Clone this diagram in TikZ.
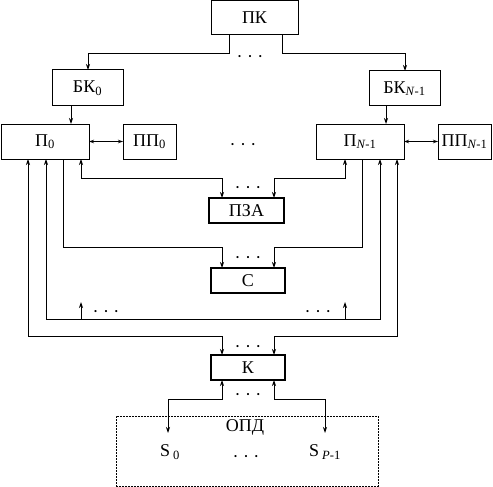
\documentclass[tikz,border=0pt]{standalone}
\usepackage{fontspec}
\setmainfont{Liberation Serif}
\usetikzlibrary{arrows.meta}
\begin{document}
\begin{tikzpicture}[x=1pt,y=-1pt,
  every node/.style={font=\fontsize{18}{21}\selectfont},
  blk/.style={draw,line width=1pt,inner sep=0pt,outer sep=0pt},
  blkb/.style={draw,line width=1.5pt,inner sep=0pt,outer sep=0pt},
  con/.style={line width=0.8pt,-{Stealth[length=6pt,width=4pt]}},
  bcon/.style={line width=0.8pt,{Stealth[length=6pt,width=4pt]}-{Stealth[length=6pt,width=4pt]}},
  scon/.style={line width=0.8pt,{Stealth[length=5pt,width=3.5pt,open]}-{Stealth[length=5pt,width=3.5pt,open]}},
  dots/.style={inner sep=0pt,font=\fontsize{18}{21}\selectfont}]
\useasboundingbox (0,0) rectangle (493,487);
% blocks
\node[blk,minimum width=87pt,minimum height=34pt] (PK) at (254.5,18) {ПК};
\node[blk,minimum width=71pt,minimum height=36pt] (BK0) at (87.5,88) {БК\textsubscript{0}};
\node[blk,minimum width=71pt,minimum height=35pt] (BKN) at (404.5,88.5) {БК\textsubscript{\textit{N}-1}};
\node[blk,minimum width=88pt,minimum height=35pt] (P0) at (45,141.5) {П\textsubscript{0}};
\node[blk,minimum width=53pt,minimum height=35pt] (PP0) at (149.5,141.5) {ПП\textsubscript{0}};
\node[blk,minimum width=88pt,minimum height=35pt] (PN) at (360,141.5) {П\textsubscript{\textit{N}-1}};
\node[blk,minimum width=53pt,minimum height=35pt] (PPN) at (464.5,141.5) {ПП\textsubscript{\textit{N}-1}};
\node[blkb,minimum width=75pt,minimum height=25pt] (PZA) at (246.5,210.5) {ПЗА};
\node[blkb,minimum width=74pt,minimum height=25pt] (C) at (248,280.5) {С};
\node[blkb,minimum width=74pt,minimum height=25pt] (K) at (248,367.5) {К};
\node[draw,line width=0.8pt,dash pattern=on 2pt off 1pt,inner sep=0pt,minimum width=262pt,minimum height=70pt] (OPD) at (247,451) {};
\node (OPDl) at (245,427) {ОПД};
\node (S0) at (170,452) {S\,\textsubscript{0}};
\node (SP) at (325,452) {S\,\textsubscript{\textit{P}-1}};
% dots
\node[dots] (d1) at (250,59) {· · ·};
\node[dots] (d2) at (243,147) {· · ·};
\node[dots] (d3) at (248,190) {· · ·};
\node[dots] (d4) at (248,260) {· · ·};
\node[dots] (d5) at (106,314) {· · ·};
\node[dots] (d6) at (318,314) {· · ·};
\node[dots] (d7) at (248,349) {· · ·};
\node[dots] (d8) at (248,397) {· · ·};
\node[dots] (d9) at (246,459) {· · ·};
% coordinates
\coordinate (s0in) at (168,433);
\coordinate (spin) at (325,433);
\coordinate (tap0) at (81,302);
\coordinate (tapN) at (345,302);
% connectors
\draw[con] (PK.south -| 229,0) -- (229,53) -- (88,53) -- (BK0.north -| 88,0);
\draw[con] (PK.south -| 282,0) -- (282,53) -- (405,53) -- (BKN.north -| 405,0);
\draw[con] (BK0.south -| 71,0) -- (P0.north -| 71,0);
\draw[con] (BKN.south -| 386,0) -- (PN.north -| 386,0);
\draw[scon] (P0.east) -- (PP0.west);
\draw[scon] (PN.east) -- (PPN.west);
\draw[bcon] (P0.south -| 81,0) -- (81,178) -- (222,178) -- (PZA.north -| 222,0);
\draw[bcon] (PN.south -| 345,0) -- (345,178) -- (274,178) -- (PZA.north -| 274,0);
\draw[con] (P0.south -| 63,0) -- (63,247) -- (222,247) -- (C.north -| 222,0);
\draw[con] (PN.south -| 362,0) -- (362,247) -- (274,247) -- (C.north -| 274,0);
\draw[bcon] (P0.south -| 46,0) -- (46,319) -- (380,319) -- (PN.south -| 380,0);
\draw[con] (81,319) -- (tap0);
\draw[con] (345,319) -- (tapN);
\draw[bcon] (P0.south -| 28,0) -- (28,336) -- (222,336) -- (K.north -| 222,0);
\draw[bcon] (PN.south -| 397,0) -- (397,336) -- (274,336) -- (K.north -| 274,0);
\draw[bcon] (K.south -| 222,0) -- (222,399) -- (168,399) -- (s0in);
\draw[bcon] (K.south -| 274,0) -- (274,399) -- (325,399) -- (spin);
\end{tikzpicture}
\end{document}
